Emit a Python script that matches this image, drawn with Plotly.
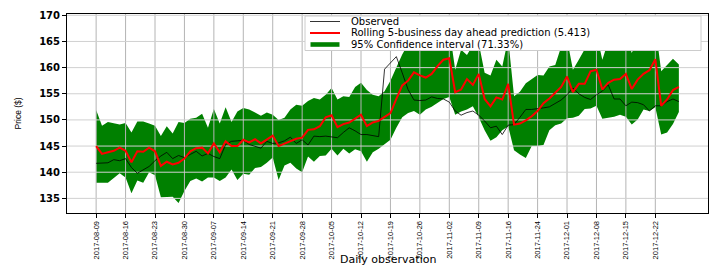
import plotly.graph_objects as go

# ---------------- data ----------------
tick_labels = ["2017-08-09", "2017-08-16", "2017-08-23", "2017-08-30", "2017-09-07",
               "2017-09-14", "2017-09-21", "2017-09-28", "2017-10-05", "2017-10-12",
               "2017-10-19", "2017-10-26", "2017-11-02", "2017-11-09", "2017-11-16",
               "2017-11-24", "2017-12-01", "2017-12-08", "2017-12-15", "2017-12-22"]
tick_step = 5  # one label every 5 business days

observed = [141.7, 141.7, 141.8, 142.4, 142.2, 142.6, 140.9, 139.8, 140.4, 141.1,
            142.2, 143.1, 143.8, 142.6, 143.2, 142.8, 143.4, 144.0, 143.1, 143.6,
            143.0, 142.6, 145.3, 145.9, 146.0, 146.1, 145.3, 145.0, 144.6, 145.9,
            145.5, 145.6, 146.0, 146.7, 145.5, 146.2, 145.2, 146.9, 146.8, 146.9,
            146.8, 146.6, 147.6, 148.5, 147.9, 147.2, 147.2, 147.0, 146.8, 159.7,
            161.0, 162.1, 159.0, 155.8, 153.8, 153.7, 153.8, 154.4, 154.1, 154.0,
            153.4, 151.7, 150.9, 151.4, 151.7, 150.9, 149.8, 148.5, 148.8, 147.2,
            149.0, 149.1, 150.5, 152.0, 152.0, 152.1, 152.3, 152.5, 153.2, 153.8,
            154.8, 156.1, 155.0, 154.3, 153.9, 154.8, 155.5, 156.7, 154.0, 154.0,
            152.7, 153.4, 153.3, 152.9, 151.7, 152.7, 152.7, 153.5, 154.0, 153.5]

prediction = [145.0, 143.5, 143.8, 144.1, 144.7, 144.1, 141.9, 144.0, 143.9, 144.7,
              144.0, 141.2, 142.0, 141.5, 141.8, 142.6, 144.0, 144.6, 144.7, 143.6,
              145.5, 143.8, 145.9, 145.0, 145.0, 146.2, 145.7, 146.3, 145.5, 146.3,
              147.0, 145.0, 145.5, 146.0, 146.4, 146.6, 148.1, 148.2, 148.8, 150.5,
              150.9, 148.6, 149.2, 149.5, 150.2, 151.0, 148.8, 149.5, 149.8, 150.5,
              151.3, 154.0, 156.6, 157.5, 159.1, 158.5, 158.1, 158.8, 160.3, 161.5,
              161.8, 155.3, 155.8, 157.8, 156.7, 158.8, 154.0, 152.6, 154.3, 153.9,
              156.9, 149.1, 149.3, 149.9, 150.7, 151.7, 153.2, 154.1, 155.2, 156.3,
              158.3, 155.3, 156.9, 156.9, 159.3, 159.6, 155.8, 157.1, 157.7, 157.8,
              158.8, 155.9, 157.7, 158.8, 159.5, 161.6, 152.7, 153.9, 155.7, 156.3]

upper = [151.9, 148.9, 149.6, 149.3, 149.1, 149.4, 147.6, 149.7, 149.7, 149.3,
         148.9, 146.9, 148.8, 147.4, 149.6, 149.4, 150.2, 150.4, 151.2, 148.5,
         152.1, 149.3, 152.4, 149.6, 151.6, 152.3, 152.0, 151.4, 150.8, 151.4,
         151.0, 150.0, 150.4, 152.0, 152.9, 152.7, 153.6, 154.2, 153.9, 154.8,
         156.1, 153.9, 154.5, 154.4, 156.3, 157.1, 155.7, 154.8, 154.5, 155.5,
         157.5, 160.0, 162.5, 164.5, 166.5, 167.5, 168.0, 167.0, 168.5, 168.0,
         167.5, 159.6, 163.4, 162.4, 164.3, 164.7, 159.0, 158.5, 161.5, 160.2,
         165.5, 154.5, 155.4, 157.0, 157.8, 158.6, 158.5, 160.2, 160.5, 164.0,
         165.5, 159.6, 161.5, 163.4, 165.5, 166.5, 161.5, 165.0, 167.0, 166.0,
         166.5, 162.8, 165.5, 167.0, 167.5, 168.0, 159.3, 160.4, 161.7, 160.6]

lower = [138.0, 138.0, 138.0, 138.9, 139.8, 139.0, 136.0, 138.4, 138.0, 140.0,
         139.4, 135.2, 135.2, 135.3, 134.1, 136.4, 138.3, 138.8, 138.2, 139.0,
         139.0, 138.3, 139.0, 140.5, 138.5, 139.7, 139.5, 140.8, 141.0, 141.8,
         142.8, 138.5, 141.3, 141.8, 140.7, 140.0, 143.0, 142.0, 143.1, 143.2,
         144.5, 143.2, 144.5, 143.6, 144.4, 144.0, 142.0, 143.8, 144.5, 145.3,
         146.2, 148.5, 150.5, 151.3, 151.7, 151.0, 152.0, 152.5, 153.3, 154.0,
         154.4, 151.0, 151.6, 152.0, 152.6, 150.5, 148.0, 146.0, 146.7, 148.0,
         148.8, 144.2, 143.4, 142.7, 145.0, 145.0, 145.2, 148.0, 149.0, 149.3,
         150.3, 150.4, 150.8, 152.1, 152.2, 152.7, 150.2, 150.4, 150.6, 151.0,
         150.6, 149.1, 150.1, 152.0, 151.7, 152.4, 147.2, 147.6, 149.2, 151.5]

y_ticks = [135, 140, 145, 150, 155, 160, 165, 170]

legend_labels = ["Observed",
                 "Rolling 5-business day ahead prediction (5.413)",
                 "95% Confidence interval (71.33%)"]

x_title = "Daily observation"
y_title = "Price ($)"

# ---------------- figure ----------------
x = list(range(len(observed)))
tick_vals = [i * tick_step for i in range(len(tick_labels))]
n = len(observed)
x_range = [-0.05 * (n - 1), (n - 1) * 1.05]
y_range = [132.2, 170.25]

fig = go.Figure()

# confidence band
fig.add_trace(go.Scatter(x=x, y=lower, mode="lines", line=dict(width=0, color="#008000"),
                         showlegend=False, hoverinfo="skip"))
fig.add_trace(go.Scatter(x=x, y=upper, mode="lines", line=dict(width=0, color="#008000"),
                         fill="tonexty", fillcolor="#008000", showlegend=False,
                         hoverinfo="skip"))

# grid drawn above the band but below the lines (matplotlib default order)
vx, vy = [], []
for t in tick_vals:
    vx += [t, t, None]
    vy += [y_range[0], y_range[1], None]
fig.add_trace(go.Scatter(x=vx, y=vy, mode="lines", line=dict(color="#b4b4b4", width=1),
                         showlegend=False, hoverinfo="skip"))
hx, hy = [], []
for t in y_ticks:
    hx += [x_range[0], x_range[1], None]
    hy += [t, t, None]
fig.add_trace(go.Scatter(x=hx, y=hy, mode="lines", line=dict(color="#d0d0d0", width=1),
                         showlegend=False, hoverinfo="skip"))

fig.add_trace(go.Scatter(x=x, y=observed, mode="lines", line=dict(color="black", width=0.8),
                         showlegend=False))
fig.add_trace(go.Scatter(x=x, y=prediction, mode="lines", line=dict(color="#ff0000", width=2),
                         showlegend=False))

L, R, T, B = 67, 11, 14, 54
W, H = 719, 267
pw, ph = W - L - R, H - T - B


def px_x(p):
    return (p - L) / pw


def px_y(p):
    return (H - B - p) / ph


row_y = [21.5, 33.0, 44.5]
# manual legend (matplotlib-style compact box)
shapes = [
    dict(type="rect", xref="paper", yref="paper", x0=px_x(305), x1=px_x(701),
         y0=px_y(50.5), y1=px_y(16), fillcolor="white", line=dict(color="#cccccc", width=1),
         layer="above"),
    dict(type="line", xref="paper", yref="paper", x0=px_x(310), x1=px_x(340),
         y0=px_y(row_y[0]), y1=px_y(row_y[0]), line=dict(color="black", width=0.8),
         layer="above"),
    dict(type="line", xref="paper", yref="paper", x0=px_x(310), x1=px_x(340),
         y0=px_y(row_y[1]), y1=px_y(row_y[1]), line=dict(color="#ff0000", width=2),
         layer="above"),
    dict(type="rect", xref="paper", yref="paper", x0=px_x(310.5), x1=px_x(339.5),
         y0=px_y(row_y[2] + 2.3), y1=px_y(row_y[2] - 2.3), fillcolor="#008000",
         line=dict(width=0), layer="above"),
]

legend_font = dict(family="DejaVu Sans", size=10, color="black")
annotations = []
for lab, yy in zip(legend_labels, row_y):
    annotations.append(dict(text=lab, xref="paper", yref="paper", x=px_x(350), y=px_y(yy),
                            xanchor="left", yanchor="middle", showarrow=False,
                            borderpad=0, font=legend_font))

annotations.append(dict(text=y_title, xref="paper", yref="paper", x=px_x(17), y=0.5,
                        xanchor="center", yanchor="middle", textangle=-90, showarrow=False,
                        font=dict(family="Liberation Sans", size=8.5, color="black")))
annotations.append(dict(text=x_title, xref="paper", yref="paper", x=0.5, y=px_y(259.5),
                        xanchor="center", yanchor="middle", showarrow=False, borderpad=0,
                        font=dict(family="DejaVu Sans", size=11, color="black")))

fig.update_layout(
    width=W, height=H, autosize=False,
    margin=dict(l=L, r=R, t=T, b=B, pad=0),
    paper_bgcolor="white", plot_bgcolor="white",
    showlegend=False,
    shapes=shapes, annotations=annotations,
    xaxis=dict(range=x_range, tickmode="array", tickvals=tick_vals, ticktext=tick_labels,
               tickangle=-90, showgrid=False, zeroline=False,
               showline=True, mirror=True, linecolor="black", linewidth=1,
               ticks="outside", ticklen=4, tickcolor="black",
               tickfont=dict(family="Liberation Sans", size=7.5, color="black"),
               automargin=False),
    yaxis=dict(range=y_range, tickmode="array", tickvals=y_ticks, showgrid=False,
               zeroline=False, showline=True, mirror=True, linecolor="black", linewidth=1,
               ticks="outside", ticklen=4, tickcolor="black",
               tickfont=dict(family="DejaVu Sans", size=10, color="black", weight="bold"),
               automargin=False),
)

fig.write_html(
    "out.html",
    config={"displayModeBar": False},
    post_script="document.body.style.margin='0px';document.body.style.overflow='hidden';",
)
